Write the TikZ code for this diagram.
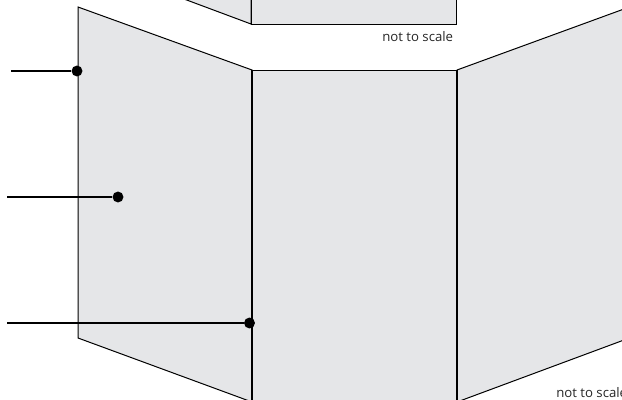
\documentclass[tikz,border=0pt]{standalone}
\usepackage{fontspec}
\setmainfont{Open Sans}
\definecolor{panel}{RGB}{229,230,232}
\tikzset{
  panelshape/.style={fill=panel,draw=black,line width=0.75pt,line join=miter},
  fold/.style={draw=black,line width=1.35pt},
  leader/.style={draw=black,line width=1.9pt},
  dotmark/.style={circle,fill=black,inner sep=0pt,minimum size=8.2pt},
  scalenote/.style={font=\fontsize{9.9pt}{12pt}\selectfont,text=black!85,inner sep=0pt,anchor=base west}
}
\begin{document}
\begin{tikzpicture}[x=0.75pt,y=-0.75pt]
\useasboundingbox (0,0) rectangle (622,400);
\begin{scope}
\clip (0,0) rectangle (622,400);
% top panels (cut off by the page)
\path[panelshape] (184,-1) -- (251,24) -- (251,-1) -- cycle;
\path[panelshape] (251,-1) -- (251,24) -- (456,24) -- (456,-1) -- cycle;
% main panels
\path[panelshape] (78,7) -- (252,70) -- (252,402) -- (78,338) -- cycle;
\path[panelshape] (252,70) -- (457,70) -- (457,402) -- (252,402) -- cycle;
\path[panelshape] (457,70) -- (624,9) -- (624,340) -- (457,402) -- cycle;
\draw[fold] (252,70) -- (252,402);
\draw[fold] (457,70) -- (457,402);
% labels
\node[scalenote] (noteA) at (382,41) {not to scale};
\node[scalenote] (noteB) at (556,397) {not to scale};
% leaders
\coordinate (s1) at (11,71);
\coordinate (s2) at (7,197);
\coordinate (s3) at (7,323);
\node[dotmark] (d1) at (77,71) {};
\node[dotmark] (d2) at (118,197) {};
\node[dotmark] (d3) at (249.5,323) {};
\draw[leader] (s1) -- (d1);
\draw[leader] (s2) -- (d2);
\draw[leader] (s3) -- (d3);
\end{scope}
\end{tikzpicture}
\end{document}
